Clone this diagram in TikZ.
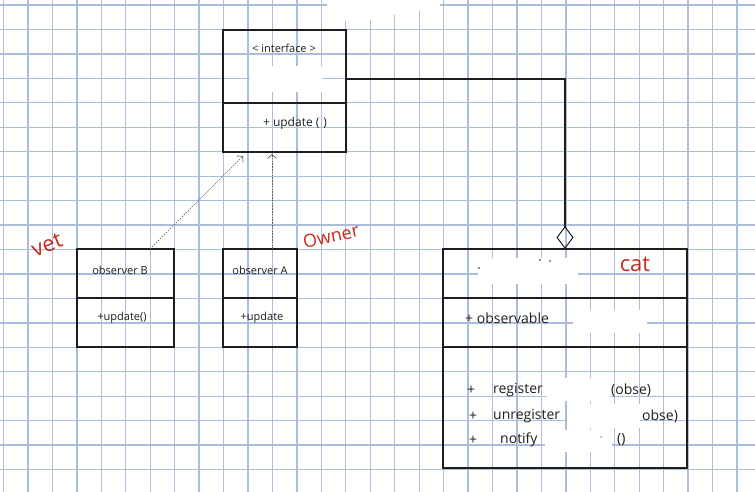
\documentclass[tikz,border=0pt]{standalone}
\usepackage{fontspec}
\setmainfont{Open Sans}
\usetikzlibrary{arrows.meta}
\definecolor{gridc}{RGB}{170,189,218}
\definecolor{ink}{RGB}{30,30,30}
\definecolor{redink}{RGB}{200,42,30}
\tikzset{
  umlbox/.style={draw=ink, line width=1.2pt, minimum width=#1, inner sep=0pt, outer sep=0pt},
  divider/.style={draw=ink, line width=1.2pt},
  txt/.style={text=ink, inner sep=0pt, font=\fontsize{11}{12}\selectfont},
  bigtxt/.style={text=ink, inner sep=0pt, font=\fontsize{14}{15}\selectfont, anchor=west},
  redtxt/.style={text=redink, inner sep=0pt, font=\fontsize{22}{24}\selectfont},
  realize/.style={draw=ink!70, line width=0.6pt, dash pattern=on 1.6pt off 1.2pt,
    -{Straight Barb[length=4pt,width=9pt,line width=0.7pt]}},
  aggr/.style={draw=ink, line width=1.2pt,
    -{Diamond[open,length=23pt,width=17pt,line width=1pt]}},
  patch/.style={fill=white, draw=none}
}
\begin{document}
\begin{tikzpicture}[x=1pt,y=-1pt]
\useasboundingbox (0,0) rectangle (755,492);
\fill[white] (0,0) rectangle (755,492);
% grid paper
\foreach \k in {0,...,30} {
  \draw[gridc, line width=1.3pt] ({3.5+24.45*\k},0) -- ({3.5+24.45*\k},492);
}
\foreach \k in {0,...,19} {
  \draw[gridc, line width=1.3pt] (0,{5+24.45*\k}) -- (755,{5+24.45*\k});
}
% blanked areas of the sheet
\fill[patch] (327,0) -- (440,0) -- (440,9) -- (418,11) -- (394,15) -- (370,20) -- (327,21) -- cycle;
\fill[patch] (250,66) rectangle (322,92);
\fill[patch] (478,258) rectangle (578,284);
\fill[patch] (573,310) rectangle (647,333);
\fill[patch] (547,378) rectangle (610,401);
\fill[patch] (567,404) rectangle (640,428);
\fill[patch] (545,430) rectangle (612,452);

% boxes
\node[umlbox=123pt, minimum height=122pt] (iface) at (284.5,91) {};
\node[umlbox=97pt, minimum height=98pt] (obsB) at (125.5,298) {};
\node[umlbox=74pt, minimum height=98pt] (obsA) at (260,298) {};
\node[umlbox=244pt, minimum height=219pt] (cat) at (565,358.5) {};

% compartment dividers
\coordinate (ifaceL) at (223,103); \coordinate (ifaceR) at (346,103);
\draw[divider] (ifaceL) -- (ifaceR);
\draw[divider] (obsB.west) -- (obsB.east);
\draw[divider] (obsA.west) -- (obsA.east);
\coordinate (catA) at (443,298); \coordinate (catB) at (687,298);
\coordinate (catC) at (443,347); \coordinate (catD) at (687,347);
\draw[divider] (catA) -- (catB);
\draw[divider] (catC) -- (catD);

% texts
\node[txt] (t1) at (284,48) {< interface >};
\node[txt, font=\fontsize{12}{13}\selectfont] (t2) at (295,123) {+ update (\,\,)};
\node[txt] (t3) at (120,270) {observer B};
\node[txt] (t4) at (122,318) {+update()};
\node[txt] (t5) at (260,270) {observer A};
\node[txt] (t6) at (262,318) {+update};
\node[bigtxt] (t7) at (465,318) {+ observable};
\node[bigtxt] (p1) at (467,390) {+};
\node[bigtxt] (t8) at (493,390) {register};
\node[bigtxt] (t9) at (611,390) {(obse)};
\node[bigtxt] (p2) at (469,416) {+};
\node[bigtxt] (t10) at (493,416) {unregister};
\node[bigtxt] (t11) at (642,416) {obse)};
\node[bigtxt] (p3) at (469,440) {+};
\node[bigtxt] (t12) at (500,440) {notify};
\node[bigtxt] (t13) at (617,440) {()};
% remnants of erased text
\fill[ink] (479,268) circle (0.8);
\fill[ink] (540,260) circle (0.8);
\fill[ink] (550,261) circle (0.8);
\fill[ink] (601,437) circle (0.7);

% red annotations
\node[redtxt] (cat-l) at (635,264) {cat};
\node[redtxt, rotate=22] (vet-l) at (47,245) {vet};
\node[redtxt, rotate=12, font=\fontsize{18}{20}\selectfont] (owner-l) at (331,236) {Owner};

% connectors
\draw[realize] ([xshift=24.5pt]obsB.north) -- ([xshift=-41.5pt,yshift=-4pt]iface.south);
\draw[realize] ([xshift=12pt]obsA.north) -- ([xshift=-12.5pt,yshift=-2pt]iface.south);
\draw[aggr] ([yshift=12pt]iface.east) -| (cat.north);
\end{tikzpicture}
\end{document}
